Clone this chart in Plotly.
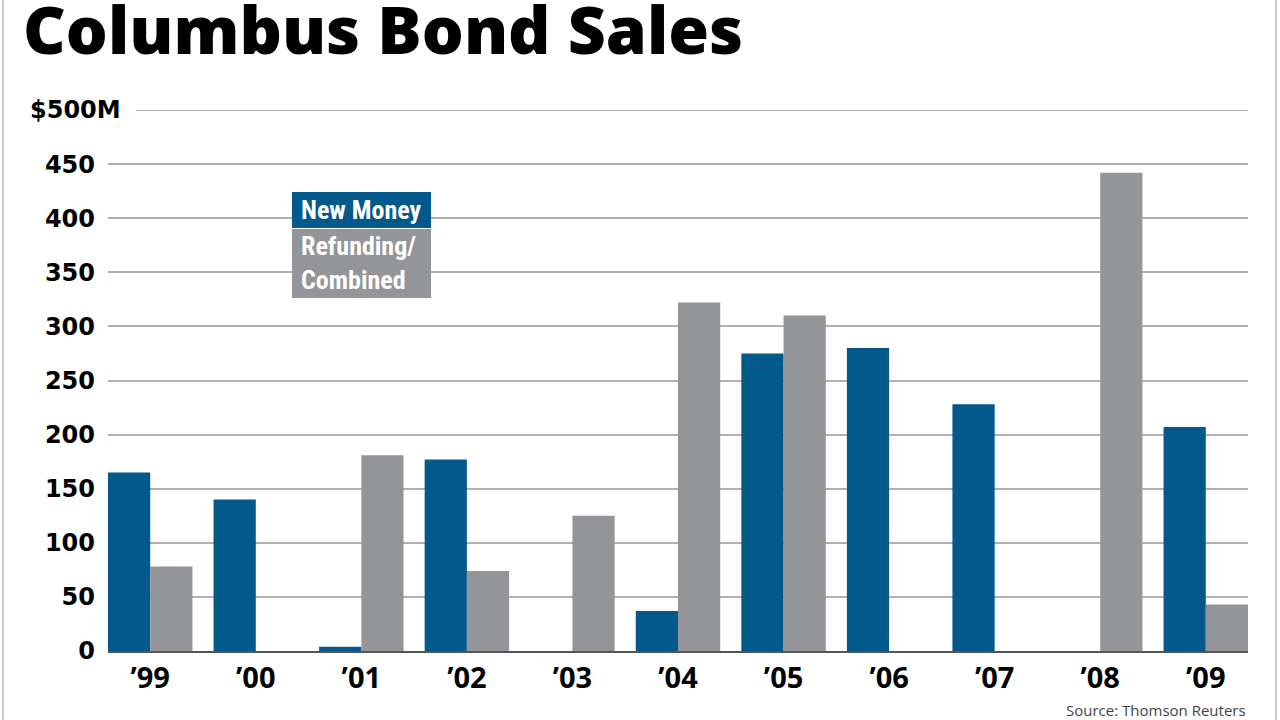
import plotly.graph_objects as go

years = ["’99", "’00", "’01", "’02", "’03", "’04", "’05", "’06", "’07", "’08", "’09"]
new_money = [165, 140, 4, 177, 0, 37, 275, 280, 228, 0, 207]
refunding = [78, 0, 181, 74, 125, 322, 310, 0, 0, 442, 43]
ytick_vals = [0, 50, 100, 150, 200, 250, 300, 350, 400, 450]
ytick_text = ["0", "50", "100", "150", "200", "250", "300", "350", "400", "450"]

BLUE = "#03588c"
GRAY = "#939598"
GRID = "#b0b0b0"

fig = go.Figure()
fig.add_trace(go.Bar(x=years, y=new_money, name="New Money", marker_color=BLUE, marker_line_width=0))
fig.add_trace(go.Bar(x=years, y=refunding, name="Refunding/Combined", marker_color=GRAY, marker_line_width=0))

L, R, T, B = 108, 32, 110, 69
PW = 1280 - L - R
PH = 720 - T - B

def px(x):
    return (x - L) / PW

def py(y):
    return (720 - B - y) / PH

fig.update_layout(
    width=1280, height=720,
    margin=dict(l=L, r=R, t=T, b=B, pad=0),
    paper_bgcolor="white", plot_bgcolor="white",
    barmode="group", bargap=0.2, bargroupgap=0,
    showlegend=False,
    font=dict(family="DejaVu Sans", color="black"),
)
fig.update_xaxes(
    range=[-0.4, 10.4], showgrid=False, showline=True, linecolor="#555555", linewidth=2,
    ticks="", ticklabelstandoff=0,
    tickfont=dict(family="Open Sans", size=29, color="black", weight="bold"),
)
fig.update_yaxes(
    range=[0, 500], tickvals=ytick_vals, ticktext=ytick_text,
    showgrid=True, gridcolor=GRID, gridwidth=2, zeroline=False,
    ticks="", ticklabelstandoff=12,
    tickfont=dict(family="DejaVu Sans", size=24, color="black", weight="bold"),
)

# top gridline and $500M label
fig.add_shape(type="line", xref="paper", yref="y", x0=px(136), x1=1, y0=500, y1=500,
              line=dict(color=GRID, width=2))
fig.add_annotation(text="$500M", xref="paper", yref="y", x=px(123), y=500, xanchor="right",
                   yanchor="middle", showarrow=False,
                   font=dict(family="DejaVu Sans", size=24, color="black", weight="bold"))

# title
fig.add_annotation(text="Columbus Bond Sales", xref="paper", yref="paper", x=px(21), y=py(28),
                   xanchor="left", yanchor="middle", showarrow=False,
                   font=dict(family="Open Sans", size=66, color="black", weight=800))

# legend box
fig.add_shape(type="rect", xref="paper", yref="paper", x0=px(292), x1=px(431), y0=py(228), y1=py(192),
              fillcolor=BLUE, line=dict(width=0), layer="above")
fig.add_shape(type="rect", xref="paper", yref="paper", x0=px(292), x1=px(431), y0=py(298), y1=py(229),
              fillcolor=GRAY, line=dict(width=0), layer="above")
fig.add_annotation(text="New Money", xref="paper", yref="paper", x=px(299), y=py(210),
                   xanchor="left", yanchor="middle", showarrow=False,
                   font=dict(family="Liberation Sans Narrow, Roboto Condensed, Roboto", size=26, color="white", weight="bold"))
fig.add_annotation(text="Refunding/<br>Combined", xref="paper", yref="paper", x=px(299), y=py(263),
                   xanchor="left", yanchor="middle", showarrow=False, align="left",
                   font=dict(family="Liberation Sans Narrow, Roboto Condensed, Roboto", size=26, color="white", weight="bold"))

# source
fig.add_annotation(text="Source: Thomson Reuters", xref="paper", yref="paper", x=1, y=py(710),
                   xanchor="right", yanchor="middle", showarrow=False,
                   font=dict(family="Open Sans", size=15, color="#444444"))

# frame
for xx in (3, 1276):
    fig.add_shape(type="line", xref="paper", yref="paper", x0=px(xx), x1=px(xx), y0=py(720), y1=py(0),
                  line=dict(color="#c8c8c8", width=2))

fig.write_html("out.html", config={"displayModeBar": False},
               post_script="document.body.style.margin='0';document.body.style.overflow='hidden';")
